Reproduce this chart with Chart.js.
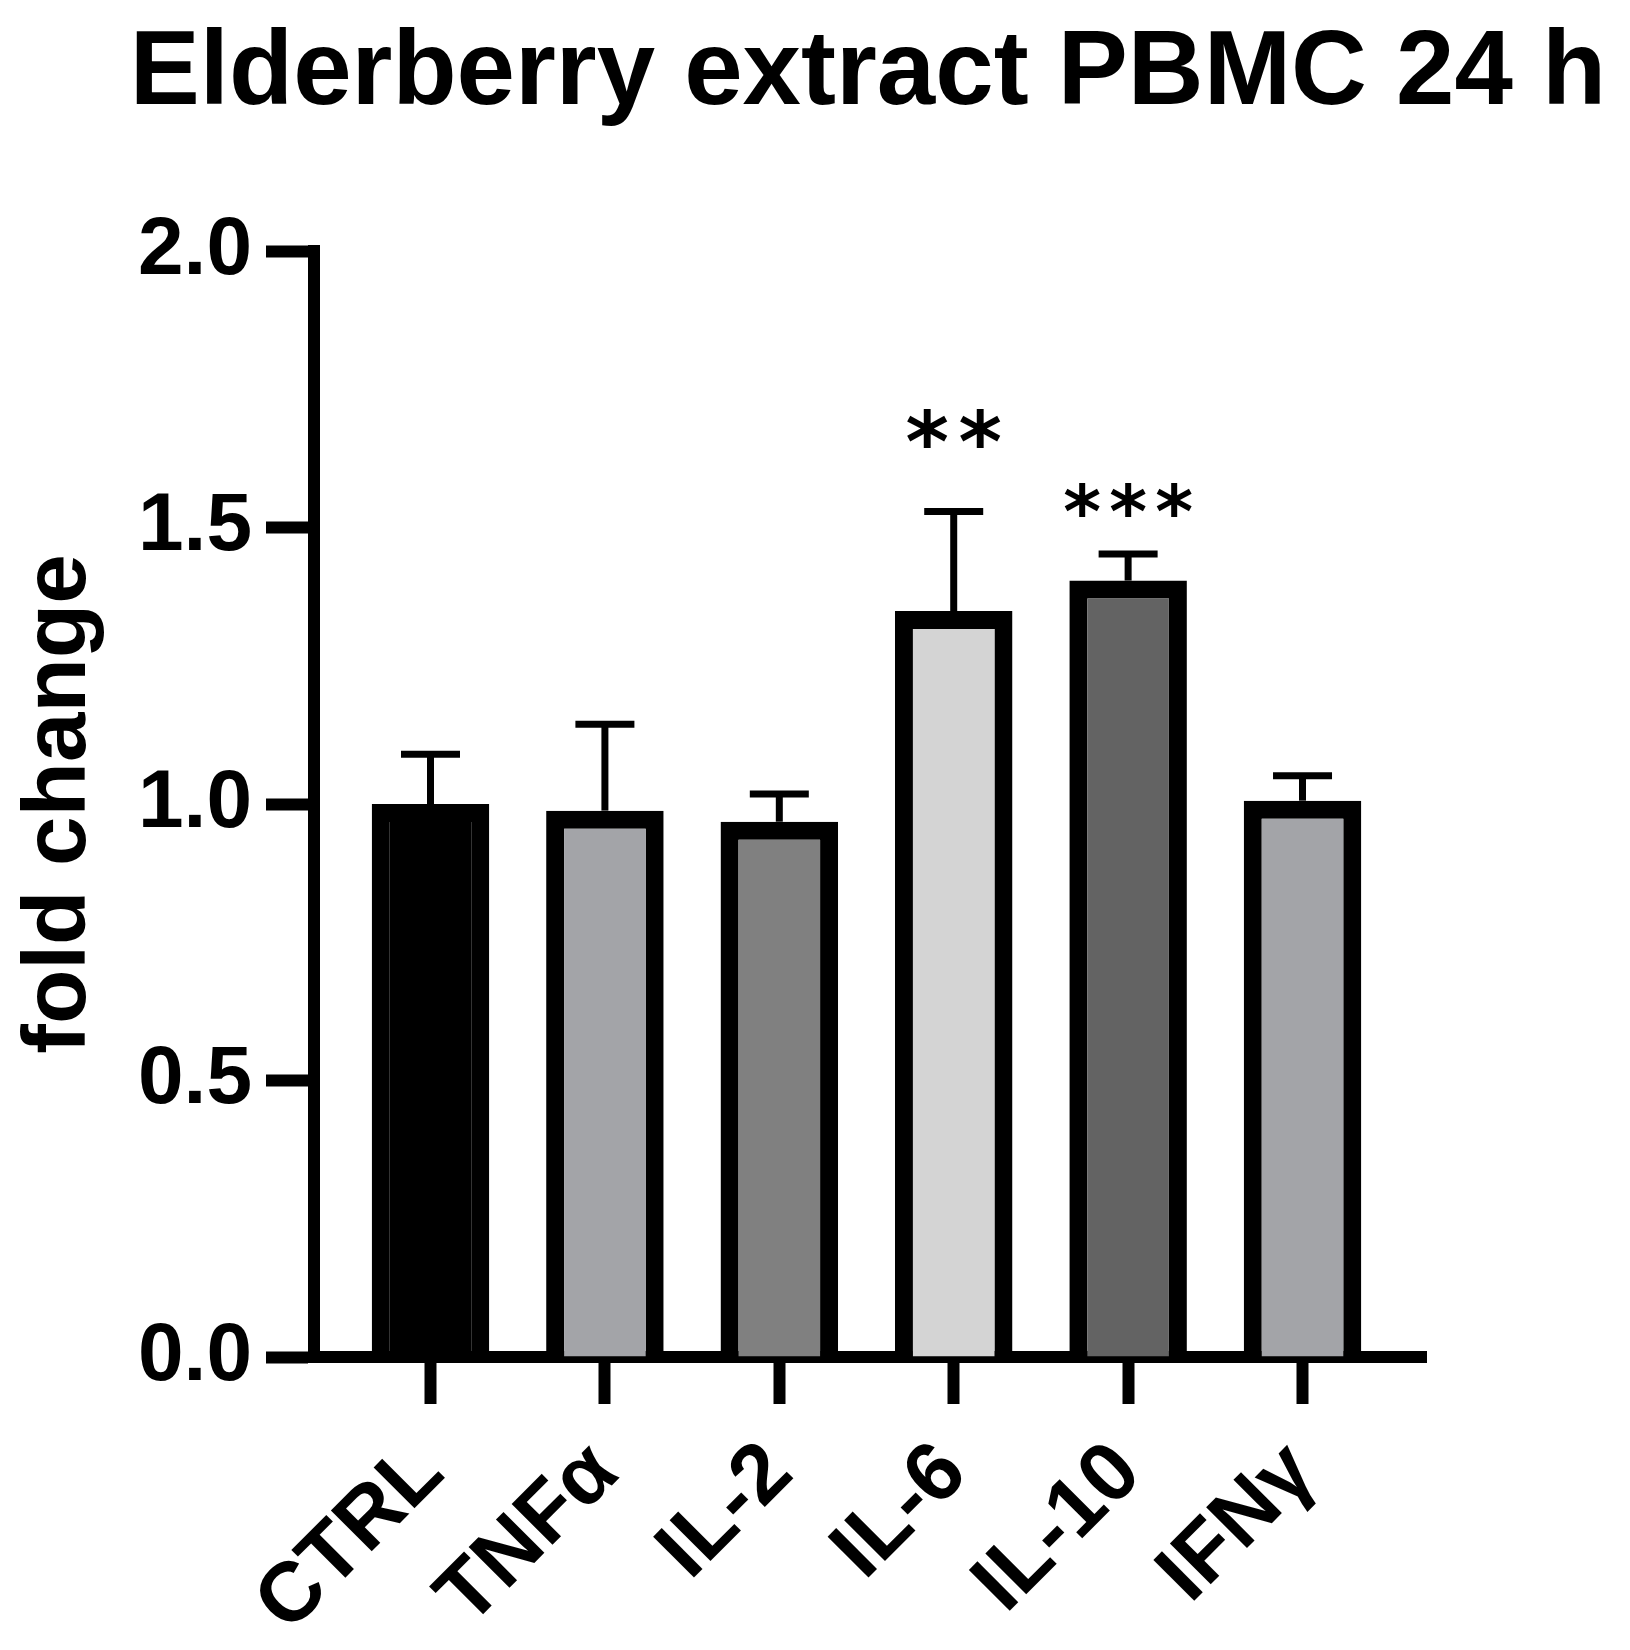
<!DOCTYPE html>
<html><head><meta charset="utf-8">
<script src="https://cdn.jsdelivr.net/npm/chart.js@4.4.1/dist/chart.umd.min.js"></script>
<style>html,body{margin:0;padding:0;background:#fff;} canvas{display:block;}</style>
</head><body>
<canvas id="c" width="1630" height="1650"></canvas>
<script>
const chartTitle = 'Elderberry extract PBMC 24 h';
const categories = ['CTRL', 'TNFα', 'IL-2', 'IL-6', 'IL-10', 'IFNγ'];
const foldChange = [1.000, 0.988, 0.968, 1.349, 1.404, 1.006];
const errorSD = [0.090, 0.156, 0.050, 0.180, 0.048, 0.045];
const significance = ['', '', '', '**', '***', ''];
const barColors = ['#000000', '#a3a4a8', '#808080', '#d4d4d4', '#636363', '#a3a4a8'];
const yTickValues = [0, 0.5, 1.0, 1.5, 2.0];
const yTickLabels = ['0.0', '0.5', '1.0', '1.5', '2.0'];

const FONT = "'Liberation Sans', Arial, Helvetica, sans-serif";
const STAR_FONT = "'DejaVu Sans', 'Liberation Sans', sans-serif";

const titlePlugin = {
  id: 'topTitle',
  afterDraw(chart, args, opts) {
    const ctx = chart.ctx, ca = chart.chartArea;
    ctx.save();
    ctx.fillStyle = '#000';
    ctx.font = 'bold ' + opts.size + 'px ' + FONT;
    ctx.textAlign = 'center';
    ctx.textBaseline = 'alphabetic';
    ctx.fillText(opts.text, (ca.left + ca.right) / 2 + opts.dx, opts.baseline);
    ctx.restore();
  }
};

const errorBarPlugin = {
  id: 'errorBars',
  afterDatasetsDraw(chart, args, opts) {
    const ctx = chart.ctx, xs = chart.scales.x, ys = chart.scales.y;
    ctx.save();
    ctx.strokeStyle = '#000';
    ctx.lineWidth = opts.lineWidth;
    ctx.lineCap = 'butt';
    foldChange.forEach((v, i) => {
      const px = xs.getPixelForValue(i);
      const y0 = ys.getPixelForValue(v);
      const y1 = ys.getPixelForValue(v + errorSD[i]);
      ctx.beginPath(); ctx.moveTo(px, y0); ctx.lineTo(px, y1); ctx.stroke();
      ctx.beginPath(); ctx.moveTo(px - opts.capHalf, y1); ctx.lineTo(px + opts.capHalf, y1); ctx.stroke();
      const s = significance[i];
      if (s) {
        const n = s.length;
        const st = opts.stars[n];
        ctx.fillStyle = '#000';
        ctx.font = 'bold 100px ' + STAR_FONT;
        const m0 = ctx.measureText('*');
        const h0 = m0.actualBoundingBoxAscent + m0.actualBoundingBoxDescent;
        const size = 100 * st.height / h0;
        ctx.font = 'bold ' + size + 'px ' + STAR_FONT;
        ctx.textAlign = 'center';
        ctx.textBaseline = 'alphabetic';
        const m = ctx.measureText('*');
        const bottom = y1 - st.gap;
        const baseY = bottom - m.actualBoundingBoxDescent;
        for (let k = 0; k < n; k++) {
          ctx.fillText('*', px + (k - (n - 1) / 2) * st.spacing, baseY);
        }
      }
    });
    ctx.restore();
  }
};

new Chart(document.getElementById('c'), {
  type: 'bar',
  data: {
    datasets: [{
      data: categories.map((c, i) => ({ x: i, y: foldChange[i] })),
      backgroundColor: barColors,
      borderColor: '#000000',
      borderWidth: 18,
      borderSkipped: 'start',
      barPercentage: 0.674,
      categoryPercentage: 1.0
    }]
  },
  options: {
    responsive: false,
    animation: false,
    layout: { padding: { left: 0, right: 204, top: 251, bottom: 0 } },
    plugins: {
      legend: { display: false },
      tooltip: { enabled: false },
      title: { display: false },
      topTitle: { text: chartTitle, size: 105, baseline: 104, dx: -2 },
      errorBars: {
        lineWidth: 7,
        capHalf: 29.5,
        stars: { 2: { height: 39, spacing: 53, gap: 63 }, 3: { height: 34, spacing: 46, gap: 37 } }
      }
    },
    scales: {
      x: {
        type: 'linear',
        min: -0.668,
        max: 5.708,
        offset: false,
        z: 1,
        grid: { display: true, drawOnChartArea: false, drawTicks: true, tickLength: 47, tickWidth: 12, tickColor: '#000', offset: false },
        border: { display: true, width: 12, color: '#000' },
        afterBuildTicks: s => { s.ticks = categories.map((c, i) => ({ value: i })); },
        ticks: {
          autoSkip: false, maxRotation: 45, minRotation: 45, padding: 20, color: '#000',
          font: { family: FONT, size: 84, weight: 'bold' },
          callback: v => categories[v]
        },
        afterFit: s => { s.height = 293; }
      },
      y: {
        min: 0,
        max: 2,
        z: 1,
        grid: { display: true, drawOnChartArea: false, drawTicks: true, tickLength: 48, tickWidth: 12, tickColor: '#000' },
        border: { display: true, width: 12, color: '#000' },
        afterBuildTicks: s => { s.ticks = yTickValues.map(v => ({ value: v })); },
        ticks: {
          padding: 14, color: '#000',
          font: { family: FONT, size: 82, weight: 'bold' },
          callback: v => yTickLabels[yTickValues.indexOf(v)]
        },
        title: {
          display: true, text: 'fold change', color: '#000',
          font: { family: FONT, size: 89, weight: 'bold', lineHeight: 1.2 },
          padding: { top: 7, bottom: 0 }
        },
        afterFit: s => { s.width = 314; }
      }
    }
  },
  plugins: [errorBarPlugin, titlePlugin]
});
</script>
</body></html>
